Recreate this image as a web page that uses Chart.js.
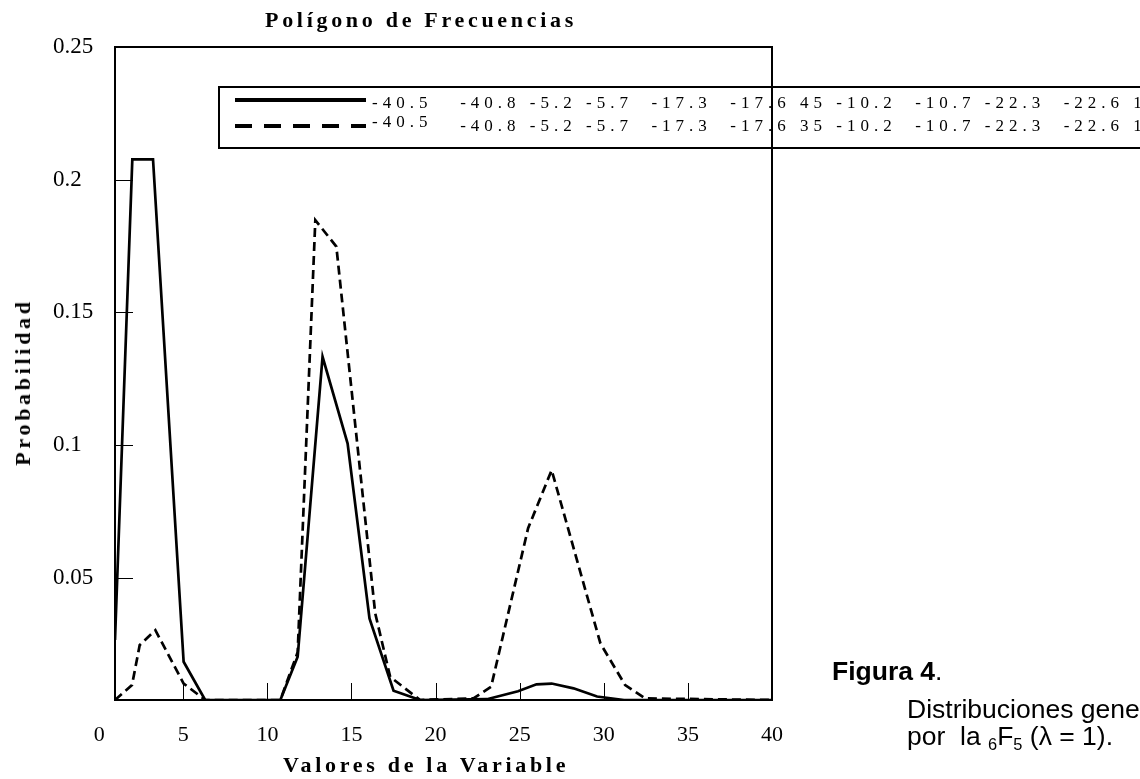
<!DOCTYPE html>
<html>
<head>
<meta charset="utf-8">
<style>
    body { margin: 0; background: #fff; overflow: hidden; }
    #wrap { position: relative; width: 1140px; height: 779px; overflow: hidden; }
    #chart { position: absolute; left: 0; top: 0; }
    .lbl { position: absolute; white-space: pre; color: #000; }
    .serif { font-family: "Liberation Serif", "Times New Roman", serif; font-weight: bold; font-size: 22px; line-height: 22px; letter-spacing: 3.7px; }
    .sans { font-family: "Liberation Sans", Arial, sans-serif; font-size: 26.5px; line-height: 26.5px; }
    .sub { font-size: 0.62em; position: relative; top: 0.3em; }
</style>
</head>
<body>
<div id="wrap">
    <canvas id="chart" width="1140" height="779"></canvas>
    <div class="lbl serif" style="left:265px; top:9px;">Polígono de Frecuencias</div>
    <div class="lbl serif" style="left:283px; top:754px;">Valores de la Variable</div>
    <div class="lbl serif" style="left:23px; top:382px; transform: translate(-50%, -50%) rotate(-90deg);">Probabilidad</div>
    <div class="lbl sans" style="left:832px; top:658px;"><b>Figura 4</b>.</div>
    <div class="lbl sans" style="left:907px; top:696px;">Distribuciones generadas</div>
    <div class="lbl sans" style="left:907px; top:723px;">por  la <span class="sub">6</span>F<span class="sub">5</span> (λ = 1).</div>
</div>

<script src="https://cdn.jsdelivr.net/npm/chart.js"></script>
<script>
    // values
    const xSolid = [0.94, 1.97, 3.2, 5.02, 6.3, 10.77, 11.8, 13.28, 14.77, 16.07, 17.5, 19.08, 23.05, 24.9, 26.0, 26.9, 28.2, 29.6, 31.2, 40];
    const ySolid = [0.0266, 0.2077, 0.2077, 0.0184, 0.004, 0.004, 0.0203, 0.1333, 0.1006, 0.0347, 0.0075, 0.004, 0.0043, 0.0073, 0.0099, 0.0102, 0.0084, 0.0053, 0.004, 0.004];

    const xDashed = [0.94, 1.95, 2.41, 3.34, 5.02, 6.3, 10.77, 11.8, 12.85, 14.1, 16.41, 17.3, 19.08, 22.25, 23.3, 25.5, 26.9, 29.8, 31.27, 32.45, 40];
    const yDashed = [0.004, 0.0096, 0.0247, 0.0303, 0.0102, 0.004, 0.004, 0.022, 0.1848, 0.1748, 0.0367, 0.0127, 0.004, 0.0046, 0.009, 0.0687, 0.0906, 0.0253, 0.0096, 0.0046, 0.004];

    const seriesLabels = [
        '-40.5   -40.8 -5.2 -5.7  -17.3  -17.6 45 -10.2  -10.7 -22.3  -22.6 1',
        '-40.5   -40.8 -5.2 -5.7  -17.3  -17.6 35 -10.2  -10.7 -22.3  -22.6 1'
    ];

    const xTicks = [0, 5, 10, 15, 20, 25, 30, 35, 40];
    const xTickLabels = ['0', '5', '10', '15', '20', '25', '30', '35', '40'];
    const yTicks = [0.05, 0.1, 0.15, 0.2, 0.25];
    const yTickLabels = ['0.05', '0.1', '0.15', '0.2', '0.25'];

    const serif = '"Liberation Serif", "Times New Roman", serif';

    function toPoints(xs, ys) {
        return xs.map((x, i) => ({ x: x, y: ys[i] }));
    }

    // legend box drawn inside the plot, like the original
    const boxLegend = {
        id: 'boxLegend',
        afterDatasetsDraw(chart) {
            const ctx = chart.ctx;
            ctx.save();
            ctx.strokeStyle = '#000';
            ctx.lineWidth = 2;
            ctx.strokeRect(219, 87, 940, 61);

            const lineY = [100, 126];
            const textY = [104, 126.5];
            const lift = [0, 4];
            chart.data.datasets.forEach((ds, i) => {
                ctx.lineWidth = 4;
                ctx.setLineDash(ds.borderDash && ds.borderDash.length ? [17, 12] : []);
                ctx.beginPath();
                ctx.moveTo(235, lineY[i]);
                ctx.lineTo(366, lineY[i]);
                ctx.stroke();
                ctx.setLineDash([]);

                ctx.fillStyle = '#000';
                ctx.font = '17px ' + serif;
                ctx.letterSpacing = '5px';
                ctx.textBaseline = 'middle';
                ctx.textAlign = 'left';
                const label = ds.label;
                const cut = label.indexOf(' ');
                const first = label.slice(0, cut);
                const rest = label.slice(cut);
                ctx.fillText(first, 372, textY[i] - lift[i]);
                ctx.fillText(rest, 372 + ctx.measureText(first).width, textY[i]);
            });
            ctx.restore();
        }
    };

    // frame and inward tick marks
    const frame = {
        id: 'frame',
        afterDraw(chart) {
            const { ctx, chartArea: a, scales: { x, y } } = chart;
            ctx.save();
            ctx.strokeStyle = '#000';
            ctx.lineWidth = 1;
            y.ticks.forEach(t => {
                const py = Math.round(y.getPixelForValue(t.value)) + 0.5;
                ctx.beginPath();
                ctx.moveTo(a.left, py);
                ctx.lineTo(a.left + 18, py);
                ctx.stroke();
            });
            x.ticks.forEach(t => {
                const px = Math.round(x.getPixelForValue(t.value)) + 0.5;
                if (px <= a.left + 2 || px >= a.right - 2) return;
                ctx.beginPath();
                ctx.moveTo(px, a.bottom);
                ctx.lineTo(px, a.bottom - 17);
                ctx.stroke();
            });
            ctx.lineWidth = 2;
            ctx.strokeRect(a.left, a.top, a.right - a.left, a.bottom - a.top);
            ctx.restore();
        }
    };

    new Chart(document.getElementById('chart').getContext('2d'), {
        type: 'line',
        data: {
            datasets: [{
                label: seriesLabels[0],
                data: toPoints(xSolid, ySolid),
                borderColor: '#000',
                borderWidth: 2.7,
                pointRadius: 0,
                tension: 0,
                fill: false
            }, {
                label: seriesLabels[1],
                data: toPoints(xDashed, yDashed),
                borderColor: '#000',
                borderWidth: 2.7,
                borderDash: [9, 5],
                pointRadius: 0,
                tension: 0,
                fill: false
            }]
        },
        options: {
            responsive: false,
            animation: false,
            devicePixelRatio: 1,
            layout: { padding: { left: 53, top: 47, right: 368, bottom: 0 } },
            plugins: {
                legend: { display: false },
                tooltip: { enabled: false },
                title: { display: false }
            },
            scales: {
                x: {
                    type: 'linear',
                    min: 0.94,
                    max: 40,
                    afterBuildTicks: s => { s.ticks = xTicks.map(v => ({ value: v })); },
                    afterFit: s => { s.height = 79; },
                    ticks: {
                        color: '#000',
                        font: { family: serif, size: 22 },
                        padding: 22,
                        maxRotation: 0,
                        autoSkip: false,
                        callback: (v, i) => xTickLabels[i]
                    },
                    grid: { display: false, drawTicks: false },
                    border: { display: false }
                },
                y: {
                    type: 'linear',
                    min: 0.004,
                    max: 0.25,
                    afterBuildTicks: s => { s.ticks = yTicks.map(v => ({ value: v })); },
                    afterFit: s => { s.width = 62; },
                    ticks: {
                        color: '#000',
                        font: { family: serif, size: 23 },
                        crossAlign: 'far',
                        padding: 0,
                        autoSkip: false,
                        callback: (v, i) => yTickLabels[i]
                    },
                    grid: { display: false, drawTicks: false },
                    border: { display: false }
                }
            }
        },
        plugins: [boxLegend, frame]
    });
</script>
</body>
</html>
